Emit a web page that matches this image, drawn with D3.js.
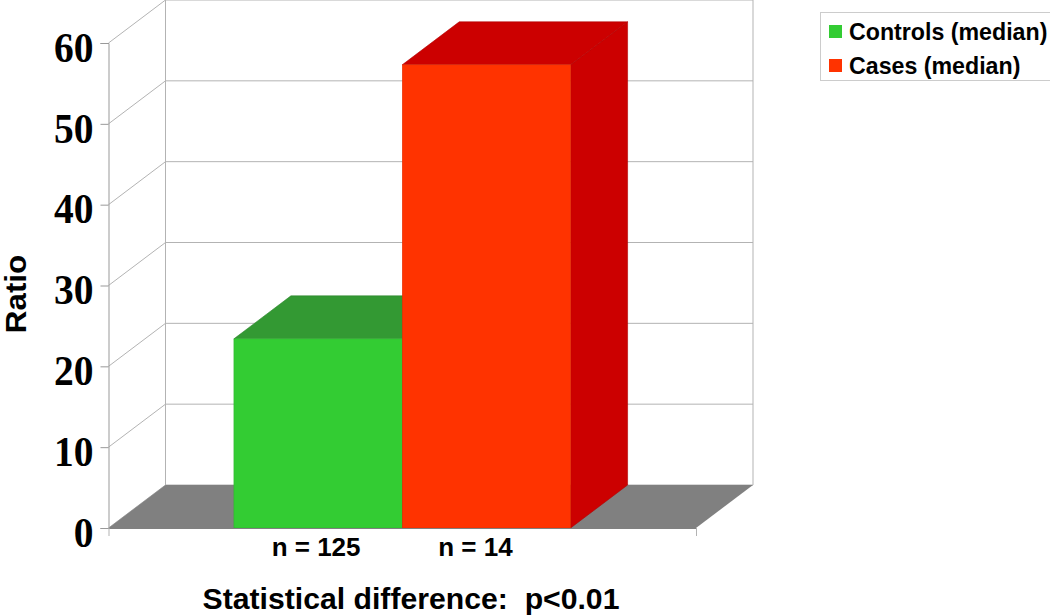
<!DOCTYPE html>
<html>
<head>
<meta charset="utf-8">
<script src="https://cdn.jsdelivr.net/npm/d3@7"></script>
<style>
html, body { margin: 0; padding: 0; background: #fff; }
svg { display: block; }
</style>
</head>
<body>
<div class="res"></div>
<script>
// data
const categories = ['Controls (median)', 'Cases (median)'];
const values = [23.4, 57.3];
const sampleLabels = ['n = 125', 'n = 14'];
const yTicks = [0, 10, 20, 30, 40, 50, 60];

const frontColors = ['#33cc33', '#ff3300'];
const topColors = ['#339933', '#cc0000'];
const sideColors = ['#339933', '#cc0000'];

const W = 1050, H = 616;

// front plane of the chart and the depth shift of the 3D box
const plot = { left: 108.5, right: 696, top: 43, bottom: 528 };
const depth = { x: 57, y: -43 };

const svg = d3.select('div.res')
    .append('svg')
    .attr('width', W)
    .attr('height', H)
    .style('background', '#fff');

const yScale = d3.scaleLinear()
    .domain([0, 60])
    .range([plot.bottom, plot.top]);

const xScale = d3.scaleBand()
    .domain(categories)
    .range([plot.left, plot.right])
    .paddingInner(0)
    .paddingOuter(0.745);

const poly = pts => pts.map(p => p.join(',')).join(' ');

// thin darker edge the bar faces have in the original
const edge = c => d3.color(c).darker(0.4).formatHex();

/**
 * BACK WALL + GRID
 */
const wall = svg.append('g').attr('fill', 'none').attr('stroke', '#b3b3b3').attr('stroke-width', 1);

yTicks.forEach(t => {
    const y = yScale(t);
    // diagonal on the side wall
    wall.append('line')
        .attr('x1', plot.left).attr('y1', y)
        .attr('x2', plot.left + depth.x).attr('y2', y + depth.y);
    // line on the back wall
    wall.append('line')
        .attr('x1', plot.left + depth.x).attr('y1', y + depth.y)
        .attr('x2', plot.right + depth.x).attr('y2', y + depth.y);
});
// back wall verticals
[plot.left, plot.right].forEach(x => {
    wall.append('line')
        .attr('x1', x + depth.x).attr('y1', plot.top + depth.y)
        .attr('x2', x + depth.x).attr('y2', plot.bottom + depth.y);
});

/**
 * FLOOR
 */
svg.append('polygon')
    .attr('points', poly([
        [plot.left, plot.bottom],
        [plot.right, plot.bottom],
        [plot.right + depth.x, plot.bottom + depth.y],
        [plot.left + depth.x, plot.bottom + depth.y]
    ]))
    .attr('fill', '#808080');

/**
 * BARS (back to front, left one first so the red bar covers it)
 */
const bars = svg.selectAll('g.bar')
    .data(categories)
    .enter().append('g')
    .attr('class', 'bar');

bars.each(function (c, i) {
    const g = d3.select(this);
    const x0 = xScale(c);
    const x1 = x0 + xScale.bandwidth();
    const yTop = yScale(values[i]);
    const yBase = yScale(0);

    // right side
    g.append('polygon')
        .attr('points', poly([
            [x1, yTop], [x1 + depth.x, yTop + depth.y],
            [x1 + depth.x, yBase + depth.y], [x1, yBase]
        ]))
        .attr('fill', sideColors[i])
        .attr('stroke', edge(sideColors[i]))
        .attr('stroke-width', 0.6);
    // top
    g.append('polygon')
        .attr('points', poly([
            [x0, yTop], [x1, yTop],
            [x1 + depth.x, yTop + depth.y], [x0 + depth.x, yTop + depth.y]
        ]))
        .attr('fill', topColors[i])
        .attr('stroke', edge(topColors[i]))
        .attr('stroke-width', 0.6);
    // front
    g.append('rect')
        .attr('x', x0)
        .attr('y', yTop)
        .attr('width', xScale.bandwidth())
        .attr('height', yBase - yTop)
        .attr('fill', frontColors[i])
        .attr('stroke', edge(frontColors[i]))
        .attr('stroke-width', 0.5);
});

/**
 * AXES
 */
const yAxis = d3.axisLeft(yScale)
    .tickValues(yTicks)
    .tickSize(8)
    .tickPadding(7)
    .tickFormat(d3.format('d'));

const yG = svg.append('g')
    .attr('transform', `translate(${plot.left}, 0)`)
    .call(yAxis);
yG.select('.domain').attr('stroke', '#999');
yG.selectAll('line').attr('stroke', '#999');
// tick digits are a bit taller than they are wide in the original
yG.selectAll('text')
    .attr('fill', '#000')
    .attr('dy', '0.43em')
    .attr('transform', 'scale(1, 1.07)')
    .style('font-family', '"Liberation Serif", serif')
    .style('font-weight', 'bold')
    .style('font-size', '39.5px');

// x axis only has end ticks
const xAxis = d3.axisBottom(d3.scaleLinear().domain([plot.left, plot.right]).range([plot.left, plot.right]))
    .tickValues([plot.left, plot.right])
    .tickSize(8)
    .tickSizeOuter(0)
    .tickFormat('');

const xG = svg.append('g')
    .attr('transform', `translate(0, ${plot.bottom})`)
    .call(xAxis);
xG.select('.domain').attr('stroke', '#808080');
xG.selectAll('line').attr('stroke', '#b3b3b3');

/**
 * LABELS
 */
const sansBold = sel => sel
    .style('font-family', '"Liberation Sans", Arial, sans-serif')
    .style('font-weight', 'bold')
    .attr('fill', '#000');

// the n = labels sit a little left of the bar centres in the original
const labelShift = [-2, -11];
svg.selectAll('text.n')
    .data(sampleLabels)
    .enter().append('text')
    .attr('class', 'n')
    .attr('x', (d, i) => xScale(categories[i]) + xScale.bandwidth() / 2 + labelShift[i])
    .attr('y', 556)
    .attr('text-anchor', 'middle')
    .style('font-size', '26px')
    .call(sansBold)
    .text(d => d);

svg.append('text')
    .attr('x', 411)
    .attr('y', 609)
    .attr('text-anchor', 'middle')
    .style('font-size', '30.2px')
    .style('white-space', 'pre')
    .call(sansBold)
    .text('Statistical difference:  p<0.01');

// stretched along its length so it stays inside the left edge
svg.append('text')
    .attr('transform', 'translate(26, 294) rotate(-90) scale(1.08, 1)')
    .attr('text-anchor', 'middle')
    .style('font-size', '29px')
    .call(sansBold)
    .text('Ratio');

/**
 * LEGEND
 */
const legend = svg.append('g');
legend.append('rect')
    .attr('x', 820.5).attr('y', 12.5)
    .attr('width', 240).attr('height', 68)
    .attr('fill', '#fff')
    .attr('stroke', '#ccc');

categories.forEach((c, i) => {
    const rowY = 31.5 + i * 34;
    legend.append('rect')
        .attr('x', 829).attr('y', rowY - 6.5)
        .attr('width', 13).attr('height', 13)
        .attr('fill', frontColors[i]);
    legend.append('text')
        .attr('x', 849)
        .attr('y', rowY + 8)
        .style('font-size', '23.2px')
        .call(sansBold)
        .text(c);
});
</script>
</body>
</html>
